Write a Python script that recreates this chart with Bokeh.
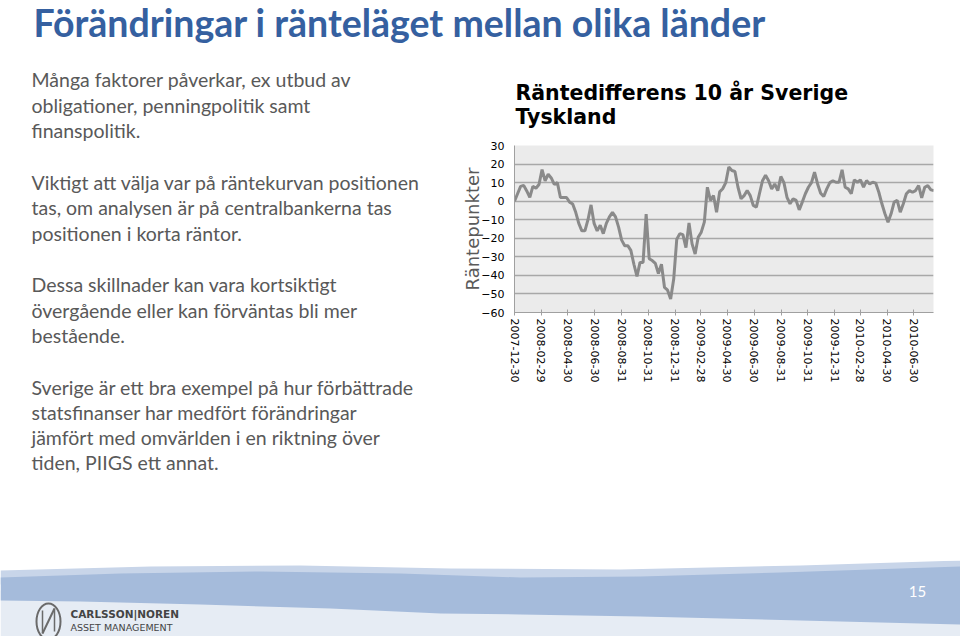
import numpy as np
import pandas as pd
from bokeh.plotting import figure
from bokeh.layouts import column, row
from bokeh.models import (Range1d, FixedTicker, DatetimeTickFormatter, ColumnDataSource)
from bokeh.core.properties import value
from bokeh.embed import file_html
from bokeh.resources import INLINE

# ---------------- data ----------------
start_date = "2007-12-30"          # first weekly observation
spread_bp = [
    0, 4, 8, 8.5, 5.5, 2, 8, 7, 9, 17,
    11, 14.5, 12.5, 9, 10, 2, 2, 2, -0.5, -1.5,
    -6, -12, -16, -16, -10, -2, -12, -16, -13, -17.5,
    -12, -8.5, -6, -8.5, -14, -21, -24, -24, -26.5, -34,
    -40.5, -33, -33, -7, -31, -32, -33.5, -39, -34, -46.5,
    -48, -52.7, -42, -20.5, -17.5, -18, -25, -11.7, -23, -28.5,
    -19.5, -16.7, -11.3, 7.5, 0.4, 3, -6, 5, 6.7, 10,
    18.4, 16.5, 16, 7.5, 1.3, 3, 5.7, 3, -2.3, -3.2,
    4, 11, 14, 11, 6.6, 9.3, 5.7, 13.3, 10, 2.1,
    -1.4, 1.3, 0.4, -4.7, -0.5, 4, 7.5, 10, 15.6, 9.3,
    4.3, 2.5, 6.6, 10, 11, 10.2, 10.2, 16.9, 7.5, 6.6,
    4, 11.5, 10.2, 11.5, 7.5, 11.1, 9.3, 10.2, 9.7, 4.8,
    -1.4, -6.8, -11.3, -6.8, -0.5, 0.4, -5.9, -1.4, 4, 5.7,
    4.8, 5.7, 8.4, 1.8, 7.5, 8.4, 6.1, 5.7,
]
x_tick_labels = ["2007-12-30", "2008-02-29", "2008-04-30", "2008-06-30",
                 "2008-08-31", "2008-10-31", "2008-12-31", "2009-02-28",
                 "2009-04-30", "2009-06-30", "2009-08-31", "2009-10-31",
                 "2009-12-31", "2010-02-28", "2010-04-30", "2010-06-30"]
y_ticks = [30, 20, 10, 0, -10, -20, -30, -40, -50, -60]

slide_title = "Förändringar i ränteläget mellan olika länder"
chart_title = ["Räntedifferens 10 år Sverige", "Tyskland"]
y_label = "Räntepunkter"
paragraphs = [
    ["Många faktorer påverkar, ex utbud av", "obligationer, penningpolitik samt", "finanspolitik."],
    ["Viktigt att välja var på räntekurvan positionen", "tas, om analysen är på centralbankerna tas",
     "positionen i korta räntor."],
    ["Dessa skillnader kan vara kortsiktigt", "övergående eller kan förväntas bli mer", "bestående."],
    ["Sverige är ett bra exempel på hur förbättrade", "statsfinanser har medfört förändringar",
     "jämfört med omvärlden i en riktning över", "tiden, PIIGS ett annat."],
]
logo_lines = ["CARLSSON|NOREN", "ASSET MANAGEMENT"]
page_number = "15"

# font centre offset (baseline -> middle of font box), in em
MID = {"Lato": 0.387, "DejaVu Sans": 0.346}


# ---------------- helpers ----------------
def panel(x0, y0, w, h):
    """A plain figure whose coordinates are page pixels (y downwards)."""
    f = figure(width=w, height=h, output_backend="svg", toolbar_location=None,
               title=None,
               x_range=Range1d(x0, x0 + w), y_range=Range1d(y0 + h, y0),
               x_axis_location=None, y_axis_location=None,
               min_border=0, outline_line_color=None,
               background_fill_color="white", border_fill_color="white")
    f.grid.visible = False
    f.frame_align = False
    return f


def put_text(f, x, baseline, text, font, size, color, style="normal", align="left"):
    yc = baseline - MID[font] * size
    f.text(x=[x], y=[yc], text=[text], text_font=value(font),
           text_font_size=value(f"{size}px"),
           text_color=color, text_font_style=style, text_align=align,
           text_baseline="middle")


# ---------------- slide title ----------------
title_fig = panel(0, 0, 960, 60)
put_text(title_fig, 33, 37, slide_title, "Lato", 37.5, "#3560a0", style="bold")

# ---------------- body text ----------------
text_fig = panel(0, 60, 455, 500)
baselines = [[86.7, 112.3, 137.7], [189.3, 215, 240.7], [291.7, 317.3, 342.7],
             [394.3, 419.3, 445, 470]]
for para, ys in zip(paragraphs, baselines):
    for line, yb in zip(para, ys):
        put_text(text_fig, 31, yb, line, "Lato", 19.5, "#595959")

# ---------------- chart title ----------------
ctitle_fig = panel(455, 60, 505, 75)
put_text(ctitle_fig, 515, 100, chart_title[0], "DejaVu Sans", 20.5, "#000000", style="bold")
put_text(ctitle_fig, 515, 123.5, chart_title[1], "DejaVu Sans", 20.5, "#000000", style="bold")

# ---------------- chart ----------------
CX0, CY0, CW, CH = 455, 135, 505, 425
FL, FR, FT, FB = 514, 933, 145, 312      # plot-area edges on the page

dates = pd.date_range(start_date, periods=len(spread_bp), freq="7D")
src = ColumnDataSource(dict(date=dates, value=spread_bp))

p = figure(width=CW, height=CH, output_backend="svg", toolbar_location=None,
           title=None, x_axis_type="datetime",
           x_range=Range1d(pd.Timestamp(start_date), pd.Timestamp("2010-08-14")),
           y_range=Range1d(-60, 30),
           min_border_left=FL - CX0, min_border_right=CX0 + CW - FR,
           min_border_top=FT - CY0, min_border_bottom=CY0 + CH - FB,
           background_fill_color="#ebebeb", border_fill_color="white",
           outline_line_color=None)
p.frame_align = False

p.line(x="date", y="value", source=src, line_color="#8a8a8a", line_width=3)

xa = p.xaxis[0]
xa.ticker = FixedTicker(ticks=[pd.Timestamp(t).value / 1e6 for t in x_tick_labels])
fmt = "%Y-%m-%d"
xa.formatter = DatetimeTickFormatter(microseconds=fmt, milliseconds=fmt, seconds=fmt,
                                     minsec=fmt, minutes=fmt, hourmin=fmt, hours=fmt,
                                     days=fmt, months=fmt, years=fmt)
xa.major_label_orientation = "vertical"
xa.axis_line_color = "#a0a0a0"
xa.major_tick_line_color = "#a0a0a0"
xa.major_tick_in = 3
xa.major_tick_out = 3
xa.minor_tick_line_color = None
xa.major_label_standoff = 3
xa.major_label_text_font = "DejaVu Sans"
xa.major_label_text_font_size = "11px"
xa.major_label_text_color = "#000000"

ya = p.yaxis[0]
ya.ticker = FixedTicker(ticks=y_ticks)
ya.axis_line_color = "#a0a0a0"
ya.major_tick_in = 0
ya.major_tick_out = 0
ya.minor_tick_line_color = None
ya.major_label_standoff = 10
ya.major_label_text_font = "DejaVu Sans"
ya.major_label_text_font_size = "11px"
ya.major_label_text_color = "#000000"
ya.axis_label = y_label
ya.axis_label_text_font = "DejaVu Sans"
ya.axis_label_text_font_size = "18px"
ya.axis_label_text_font_style = "normal"
ya.axis_label_text_color = "#5a5a5a"
ya.axis_label_standoff = -5

p.xgrid.grid_line_color = None
p.ygrid.grid_line_color = "#a8a8a8"
p.ygrid.grid_line_width = 1.5

# ---------------- footer ----------------
foot = panel(0, 560, 960, 76)
foot.patch([0, 960, 960, 0], [590, 590, 636, 636], fill_color="#e6ecf4", line_color=None)
foot.patch([0, 150, 300, 450, 620, 800, 960, 960, 0],
           [570, 566, 565, 568, 569, 565, 560, 580, 584],
           fill_color="#c8d5e9", line_color=None)
foot.patch([0, 120, 260, 400, 520, 640, 780, 960, 960, 800, 640, 520, 440, 330, 200, 80, 0],
           [577, 573, 571, 573, 577, 576, 572, 566, 624, 620, 616, 614, 613, 608, 604, 601, 600],
           fill_color="#a5bbdb", line_color=None)
foot.ellipse(x=[48], y=[621], width=24, height=36, fill_color=None,
             line_color="#6a6a6a", line_width=2)
foot.segment(x0=[42], y0=[633], x1=[54], y1=[608], line_color="#6a6a6a", line_width=2)
foot.segment(x0=[42], y0=[633], x1=[42], y1=[610], line_color="#6a6a6a", line_width=1.5)
foot.segment(x0=[54], y0=[608], x1=[54], y1=[631], line_color="#6a6a6a", line_width=1.5)
put_text(foot, 70, 617, logo_lines[0], "DejaVu Sans", 10.5, "#444444", style="bold")
put_text(foot, 70, 630, logo_lines[1], "DejaVu Sans", 9.5, "#444444")
put_text(foot, 917, 597, page_number, "Lato", 15, "white", align="center")

layout = column(title_fig,
                row(text_fig, column(ctitle_fig, p, spacing=0), spacing=0),
                foot, spacing=0)

open("out.html", "w").write(file_html(layout, INLINE))
